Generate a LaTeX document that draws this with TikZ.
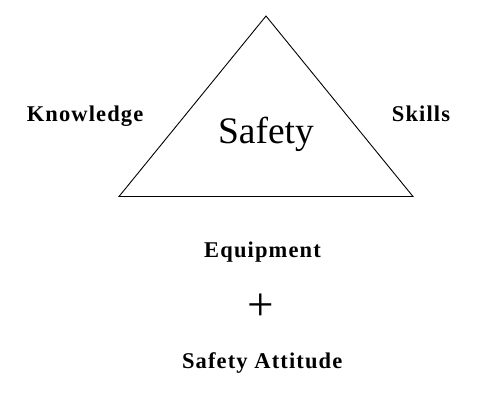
\documentclass[tikz,border=0pt]{standalone}
\usepackage{fontspec}
\setmainfont{Liberation Serif}
\newfontfamily\lblfont[LetterSpace=5]{Liberation Serif}
\begin{document}
\begin{tikzpicture}[x=1pt,y=-1pt,
  lbl/.style={anchor=base,inner sep=0pt,font={\lblfont\bfseries\fontsize{22.5}{25}\selectfont}},
  tri/.style={draw=black,line width=0.9pt,line join=miter}]
\useasboundingbox[fill=white] (0,0) rectangle (500,400);
\coordinate (apex) at (266,16);
\coordinate (bl) at (119,196.5);
\coordinate (br) at (413,196.5);
\draw[tri] (apex) -- (bl) -- (br) -- cycle;
\node[anchor=base,inner sep=0pt,font={\fontsize{37.5}{40}\selectfont}] (safety) at (266,143.3) {Safety};
\node[lbl] (know) at (85,121.3) {Knowledge};
\node[lbl] (skills) at (421,121.5) {Skills};
\node[lbl] (equip) at (262.5,257.3) {Equipment};
\node[anchor=center,inner sep=0pt,font={\fontsize{47}{50}\selectfont}] (plus) at (260.7,307) {+};
\node[lbl] (att) at (262.2,368.3) {Safety Attitude};
\end{tikzpicture}
\end{document}
